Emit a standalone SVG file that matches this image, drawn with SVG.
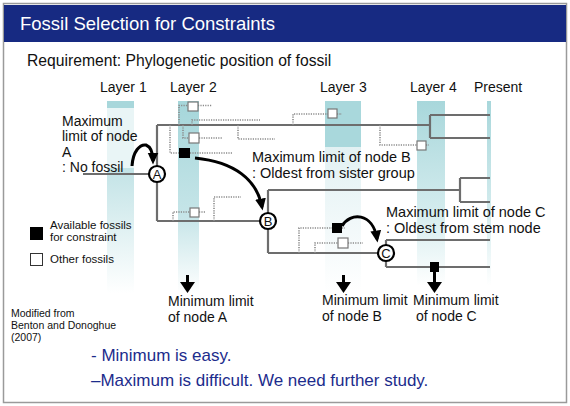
<svg xmlns="http://www.w3.org/2000/svg" width="570" height="406" viewBox="0 0 570 406">
<style>
text{font-family:"Liberation Sans",Arial,sans-serif;fill:#111}
.t14{font-size:14px}
.t145{font-size:14.5px}
.leg{font-size:11.5px}
.ref{font-size:10.5px}
.blue{font-size:17px;fill:#1c2c8c}
.tree{stroke:#6d6d6d;stroke-width:2.2;fill:none}
.dot{stroke:#8a8a8a;stroke-width:1.6;fill:none;stroke-dasharray:1.2 1.2}
.wsq{fill:#fff;stroke:#777;stroke-width:1.2}
.bsq{fill:#000}
.node circle{fill:#fff;stroke:#000;stroke-width:2.2}
.node text{font-size:13px;text-anchor:middle}
.arc{stroke:#000;stroke-width:3;fill:none}
</style>
<defs>
<marker id="ah" viewBox="0 0 10 10" refX="7" refY="5" markerWidth="12" markerHeight="12" markerUnits="userSpaceOnUse" orient="auto">
<path d="M0,0.5 L10,5 L0,9.5 z" fill="#000"/>
</marker>
<marker id="dh" viewBox="0 0 10 10" refX="0" refY="5" markerWidth="11" markerHeight="15" markerUnits="userSpaceOnUse" orient="auto" preserveAspectRatio="none">
<path d="M0,0 L10,5 L0,10 z" fill="#000"/>
</marker>
<linearGradient id="g1" x1="0" y1="0" x2="0" y2="1"><stop offset="0" stop-color="#c2e3e6"/><stop offset="1" stop-color="#fff"/></linearGradient>
<linearGradient id="g2" x1="0" y1="0" x2="0" y2="1"><stop offset="0" stop-color="#a5d6da"/><stop offset="0.6" stop-color="#c6e5e8"/><stop offset="1" stop-color="#fff"/></linearGradient>
<linearGradient id="g3" x1="0" y1="0" x2="0" y2="1"><stop offset="0" stop-color="#e2f1f3"/><stop offset="1" stop-color="#fff"/></linearGradient>
<linearGradient id="g4" x1="0" y1="0" x2="0" y2="1"><stop offset="0" stop-color="#a8d7db"/><stop offset="0.6" stop-color="#d4ecee"/><stop offset="1" stop-color="#fff"/></linearGradient>
</defs>
<rect x="3.5" y="3.5" width="563" height="399" fill="#fff" stroke="#9a9a9a" stroke-width="1.5"/>
<rect x="4" y="5" width="562" height="37" fill="#172a82"/>
<text x="20" y="30" style="font-size:18.5px;fill:#fff">Fossil Selection for Constraints</text>
<text x="27" y="66" style="font-size:15.7px">Requirement: Phylogenetic position of fossil</text>

<g id="layers">
<rect x="107" y="101" width="27" height="7" fill="#a8d7db"/>
<rect x="107" y="108" width="27" height="60" fill="#e9f5f6"/>
<rect x="107" y="168" width="27" height="125" fill="url(#g1)"/>
<rect x="178" y="101" width="21" height="192" fill="url(#g2)"/>
<rect x="325" y="101" width="36" height="46" fill="#a9d8dc"/>
<rect x="325" y="147" width="36" height="146" fill="url(#g3)"/>
<rect x="417" y="101" width="28" height="185" fill="url(#g4)"/>
<rect x="487" y="101" width="4" height="185" fill="url(#g4)"/>
<text x="100" y="92" class="t14">Layer 1</text>
<text x="170" y="92" class="t14">Layer 2</text>
<text x="320" y="92" class="t14">Layer 3</text>
<text x="410" y="92" class="t14">Layer 4</text>
<text x="474" y="92" class="t14">Present</text>
</g>

<g id="connectors">
<path class="tree" d="M83,174 H157 M157,125 V221 M157,125 H430 M430,115 V138 M430,115 H490 M430,138 H490 M157,221 H268 M268,190 V253 M268,190 H460 M460,178 V202 M460,178 H490 M460,202 H490 M268,253 H386 M386,240 V267 M386,240 H490 M386,267 H490"/>
<path class="dot" d="M179,125 V105.5 H188 M198,105.5 H212 M192,125 V120 H260 M183,125 V138 H189 M199,138 H222 M170,125 V153 H179 M190,153 H232 M238,125 V139 H275 M293,125 V114 H328 M337,114 H342 M380,125 V145 H417 M426,145 H429 M173,221 V212 H190 M199,212 H205 M214,221 V197 H241 M299,253 V228 H332 M342,228 H345 M315,253 V243 H338 M348,243 H363"/>
<path class="arc" marker-end="url(#ah)" d="M132,166 C133,151 140,144 146,145 C151,147 153,154 153,161"/>
<path class="arc" marker-end="url(#ah)" d="M195,158 C235,162 257,180 262,207"/>
<path class="arc" marker-end="url(#ah)" d="M342,226 C350,212 373,212 377,239"/>
<path class="arc" marker-end="url(#dh)" d="M187.5,275 V282"/>
<path class="arc" marker-end="url(#dh)" d="M343.5,275 V282"/>
<path class="arc" marker-end="url(#dh)" d="M434.5,272 V282"/>
</g>

<g id="fossils">
<rect class="wsq" x="188" y="102" width="10" height="9"/>
<rect class="wsq" x="189" y="133" width="10" height="10"/>
<rect class="bsq" x="179" y="148" width="11" height="10"/>
<rect class="wsq" x="328" y="109" width="9" height="9"/>
<rect class="wsq" x="417" y="141" width="9" height="9"/>
<rect class="wsq" x="190" y="208" width="9" height="9"/>
<rect class="bsq" x="332" y="223" width="10" height="10"/>
<rect class="wsq" x="338" y="238" width="10" height="10"/>
<rect class="bsq" x="430" y="262" width="9" height="10"/>
</g>

<g id="nodeA" class="node"><circle cx="157" cy="174" r="8"/><text x="157" y="178.7">A</text></g>
<g id="nodeB" class="node"><circle cx="268" cy="221" r="8"/><text x="268" y="225.7">B</text></g>
<g id="nodeC" class="node"><circle cx="386" cy="253" r="8"/><text x="386" y="257.7">C</text></g>

<g id="labels">
<text class="t14" x="62" y="126">Maximum</text>
<text class="t14" x="62" y="141">limit of node</text>
<text class="t14" x="62" y="157">A</text>
<text class="t14" x="62" y="172">: No fossil</text>
<text class="t145" x="252" y="162">Maximum limit of node B</text>
<text class="t145" x="252" y="178">: Oldest from sister group</text>
<text class="t145" x="386" y="217">Maximum limit of node C</text>
<text class="t145" x="386" y="233">: Oldest from stem node</text>
<text class="t14" x="168" y="306">Minimum limit</text>
<text class="t14" x="168" y="322">of node A</text>
<text class="t14" x="322" y="305">Minimum limit</text>
<text class="t14" x="322" y="321">of node B</text>
<text class="t14" x="413" y="305">Minimum limit</text>
<text class="t14" x="416" y="321">of node C</text>
</g>

<g id="legend">
<rect x="30" y="227" width="13" height="13" fill="#000"/>
<text class="leg" x="50" y="229">Available fossils</text>
<text class="leg" x="50" y="241">for constraint</text>
<rect x="30.5" y="253.5" width="12" height="12" fill="#fff" stroke="#333" stroke-width="1"/>
<text class="leg" x="50" y="263">Other fossils</text>
</g>

<text class="ref" x="11" y="317">Modified from</text>
<text class="ref" x="11" y="329"> Benton and Donoghue</text>
<text class="ref" x="11" y="341"> (2007)</text>
<text class="blue" x="91" y="361">- Minimum is easy.</text>
<text class="blue" x="91" y="386">–Maximum is difficult. We need further study.</text>
</svg>
